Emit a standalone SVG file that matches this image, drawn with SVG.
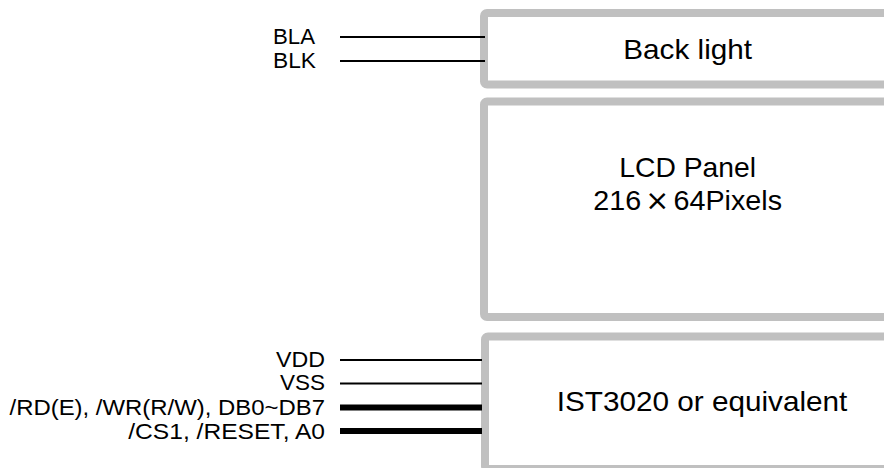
<svg xmlns="http://www.w3.org/2000/svg" width="884" height="468" viewBox="0 0 884 468">
<style>
.box{fill:#ffffff;stroke:#c0c0c0;stroke-width:8}
.t{font-family:"Liberation Sans",Arial,sans-serif;fill:#000000}
.big{font-size:28px}
.pin{font-size:22px;text-anchor:start}
.thin{stroke:#000000;stroke-width:2}
.thick{stroke:#000000;stroke-width:6}
</style>
<rect width="884" height="468" fill="#ffffff"/>
<g id="backlight">
<rect class="box" x="484" y="13" width="420" height="71.5" rx="3"/>
<text class="t big" x="623.3" y="58.5" textLength="128.7" lengthAdjust="spacingAndGlyphs">Back light</text>
</g>
<g id="lcd-panel">
<rect class="box" x="484" y="101.5" width="420" height="215.5" rx="3"/>
<text class="t big" x="619.3" y="176.7" textLength="136.7" lengthAdjust="spacingAndGlyphs">LCD Panel</text>
<text class="t big" x="593.3" y="209.5" textLength="188.7" lengthAdjust="spacingAndGlyphs">216<tspan font-family="'DejaVu Sans',sans-serif" dx="4">×</tspan><tspan dx="4">64Pixels</tspan></text>
</g>
<g id="controller">
<rect class="box" x="485" y="336.5" width="420" height="132.5" rx="3"/>
<text class="t big" x="556.7" y="410.7" textLength="290.7" lengthAdjust="spacingAndGlyphs">IST3020 or equivalent</text>
</g>
<g id="connectors">
<line class="thin" x1="340" y1="37" x2="485" y2="37"/>
<line class="thin" x1="340" y1="61" x2="485" y2="61"/>
<line class="thin" x1="340" y1="360" x2="482" y2="360"/>
<line class="thin" x1="340" y1="383.5" x2="482" y2="383.5"/>
<line class="thick" x1="340" y1="407.5" x2="482" y2="407.5"/>
<line class="thick" x1="340" y1="431" x2="482" y2="431"/>
<text class="t pin" x="273" y="44" textLength="42" lengthAdjust="spacingAndGlyphs">BLA</text>
<text class="t pin" x="273" y="67.5" textLength="43" lengthAdjust="spacingAndGlyphs">BLK</text>
<text class="t pin" x="276" y="366.7" textLength="49" lengthAdjust="spacingAndGlyphs">VDD</text>
<text class="t pin" x="280" y="390.3" textLength="45" lengthAdjust="spacingAndGlyphs">VSS</text>
<text class="t pin" x="9.5" y="414.5" textLength="315.5" lengthAdjust="spacingAndGlyphs">/RD(E), /WR(R/W), DB0~DB7</text>
<text class="t pin" x="128.3" y="438.5" textLength="196.7" lengthAdjust="spacingAndGlyphs">/CS1, /RESET, A0</text>
</g>
</svg>
